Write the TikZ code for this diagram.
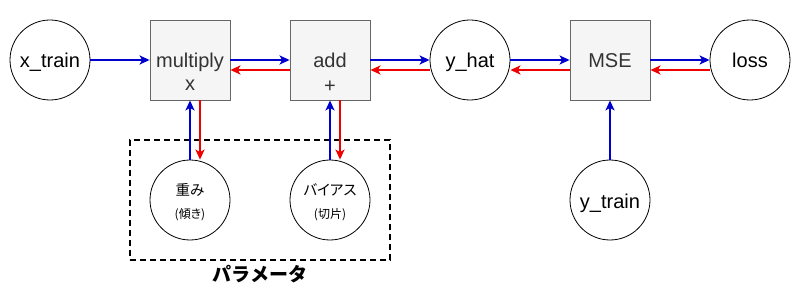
\documentclass[tikz,border=0pt]{standalone}
\usepackage{fontspec}
\setmainfont{Liberation Sans}
\newfontfamily\cjk[RawFeature=+palt]{Noto Sans CJK JP}
\newfontfamily\cjkfull{Noto Sans CJK JP}
\usetikzlibrary{arrows.meta}
\definecolor{fblue}{HTML}{0000CC}
\definecolor{bred}{HTML}{EE0000}
\definecolor{boxgray}{HTML}{666666}
\definecolor{boxfill}{HTML}{F5F5F5}
\definecolor{txtgray}{HTML}{333333}
\begin{document}
\begin{tikzpicture}[x=1pt,y=-1pt,
  circ/.style={circle,draw=black,line width=0.8pt,minimum size=80pt,inner sep=0pt,fill=white},
  opbox/.style={draw=boxgray,fill=boxfill,line width=0.8pt,minimum width=80pt,minimum height=80pt,inner sep=0pt},
  fwd/.style={draw=fblue,line width=1.9pt,-{Stealth[length=10pt,width=9pt,inset=2.5pt]}},
  bwd/.style={draw=bred,line width=1.9pt,-{Stealth[length=10pt,width=9pt,inset=2.5pt]}},
  lbl/.style={font=\fontsize{20}{24}\selectfont,inner sep=0pt,anchor=base},
  jp/.style={font=\cjk\fontsize{14.5}{16}\selectfont,inner sep=0pt},
  jps/.style={font=\cjk\fontsize{12}{14}\selectfont,inner sep=0pt}]
\useasboundingbox (0,0) rectangle (798,294);
% parameter frame
\node[draw=black,dashed,line width=1.5pt,dash pattern=on 6pt off 4pt,minimum width=260pt,minimum height=120pt,inner sep=0pt] (frame) at (260,200) {};
\node[font=\cjkfull\bfseries\fontsize{19}{22}\selectfont,inner sep=0pt] (plabel) at (260,274) {パラメータ};
% nodes
\node[circ] (xt) at (50,60) {};
\node[opbox] (mul) at (190,60) {};
\node[opbox] (add) at (330,60) {};
\node[circ] (yhat) at (470,60) {};
\node[opbox] (mse) at (610,60) {};
\node[circ] (loss) at (750,60) {};
\node[circ] (w) at (190,200) {};
\node[circ] (b) at (330,200) {};
\node[circ] (yt) at (610,200) {};
% labels
\node[lbl] (xtl) at (50,68) {x\_train};
\node[lbl,text=txtgray] (mull) at (190,68) {multiply};
\node[lbl,text=txtgray] (mulx) at (190,91) {x};
\node[lbl,text=txtgray] (addl) at (330,68) {add};
\node[lbl,text=txtgray] (addp) at (330,93) {+};
\node[lbl] (yhatl) at (470,68) {y\_hat};
\node[lbl,text=txtgray] (msel) at (610,68) {MSE};
\node[lbl] (lossl) at (750,68) {loss};
\node[lbl] (ytl) at (610,208) {y\_train};
\node[jp] (wl) at (190,190) {重み};
\node[jps] (wl2) at (190,215) {(傾き)};
\node[jp] (bl) at (330,190) {バイアス};
\node[jps] (bl2) at (330,215) {(切片)};
% forward
\draw[fwd] (xt.east) -- (mul.west);
\draw[fwd] (mul.east) -- (add.west);
\draw[fwd] (add.east) -- (yhat.west);
\draw[fwd] (yhat.east) -- (mse.west);
\draw[fwd] (mse.east) -- (loss.west);
\draw[fwd] (w.north) -- (mul.south);
\draw[fwd] (b.north) -- (add.south);
\draw[fwd] (yt.north) -- (mse.south);
% backward
\draw[bwd] ([yshift=-10pt]add.west) -- ([yshift=-10pt]mul.east);
\draw[bwd] ([yshift=-10pt]yhat.west) -- ([yshift=-10pt]add.east);
\draw[bwd] ([yshift=-10pt]mse.west) -- ([yshift=-10pt]yhat.east);
\draw[bwd] ([yshift=-10pt]loss.west) -- ([yshift=-10pt]mse.east);
\draw[bwd] ([xshift=10pt]mul.south) -- ([xshift=10pt]w.north);
\draw[bwd] ([xshift=10pt]add.south) -- ([xshift=10pt]b.north);
\end{tikzpicture}
\end{document}
